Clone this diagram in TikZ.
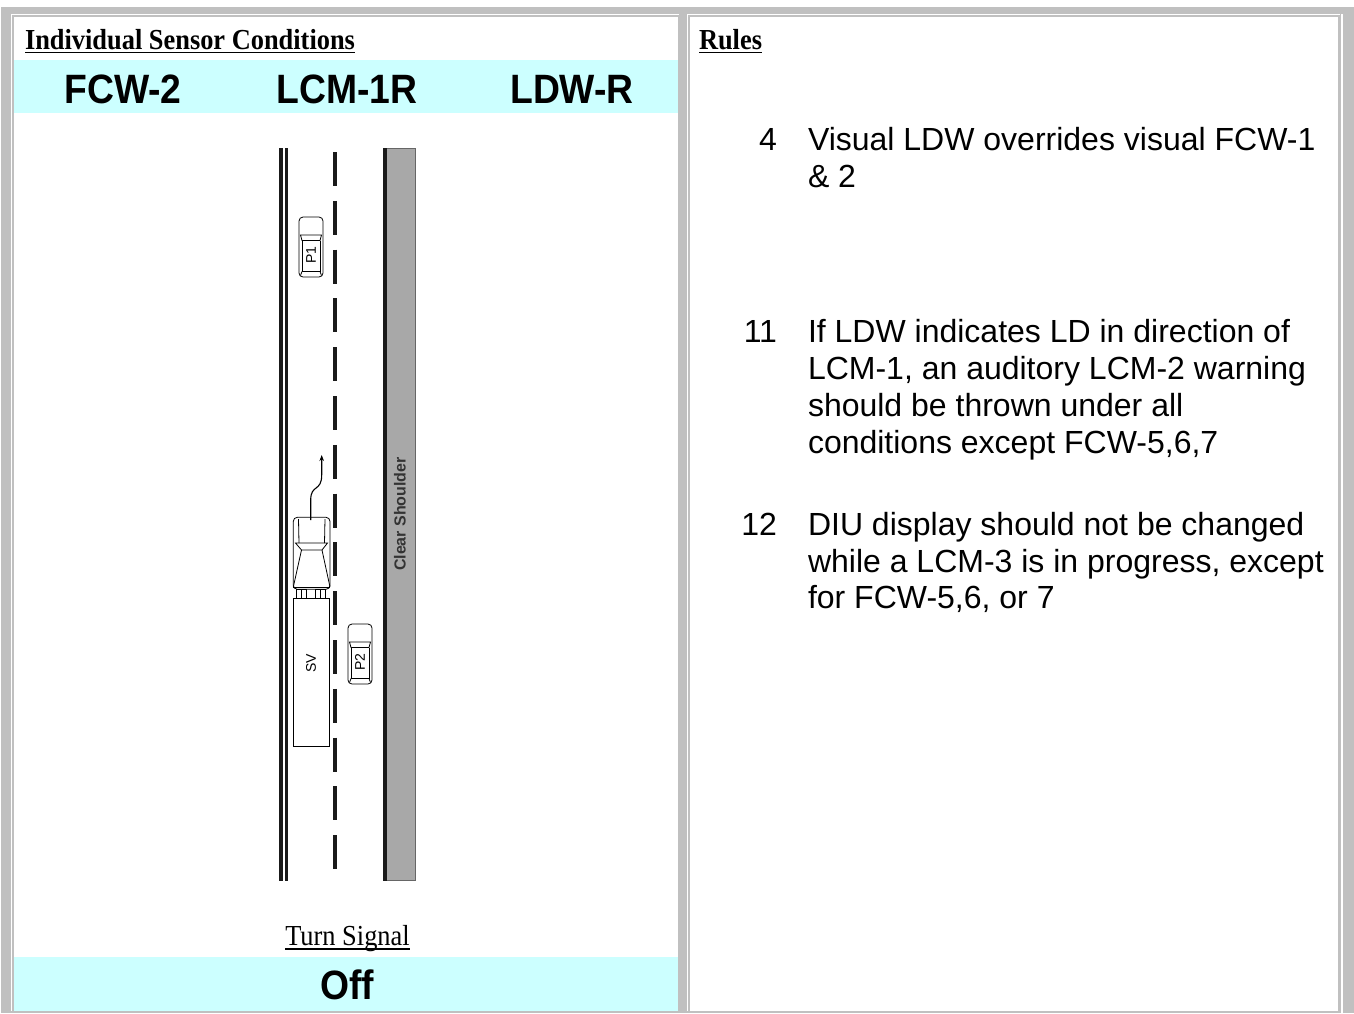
\documentclass[tikz,border=0pt]{standalone}
\usepackage{fontspec}
\setmainfont{Liberation Serif}
\setsansfont{Liberation Sans}
\usetikzlibrary{arrows.meta}

\definecolor{framegrey}{HTML}{C0C0C0}
\definecolor{bandcyan}{HTML}{CCFFFF}
\definecolor{shouldergrey}{HTML}{A8A8A8}
\definecolor{ink}{HTML}{1A1A1A}

% slightly condensed setting for the large labels
\newcommand{\condensed}[1]{\scalebox{0.91}[1]{#1}}

\begin{document}
\begin{tikzpicture}[x=1pt,y=-1pt,
  every node/.style={inner sep=0pt, outer sep=0pt},
  heading/.style={font=\fontsize{29}{32}\selectfont\bfseries, anchor=base west},
  caption/.style={font=\fontsize{29}{32}\selectfont, anchor=base},
  status/.style={font=\sffamily\bfseries\fontsize{41}{44}\selectfont, anchor=base},
  ruletext/.style={font=\sffamily\fontsize{32}{37}\selectfont, anchor=base west},
  rulenum/.style={font=\sffamily\fontsize{32}{37}\selectfont, anchor=base east},
  uline/.style={line width=1.8pt},
  roadline/.style={draw=ink, line width=3.3pt},
  carline/.style={draw=black, line width=0.8pt},
  vlabel/.style={font=\sffamily\fontsize{14}{16}\selectfont, rotate=90},
  sedan/.pic={
    \draw[carline, fill=white, rounded corners=4pt] (0,0) rectangle (24,60);
    \draw[carline] (1.5,18) -- (22.5,18) -- (21,23.5) -- (3,23.5) -- cycle;
    \draw[carline] (3,23.5) -- (3,54.5) (21,23.5) -- (21,54.5);
    \draw[carline] (3,54.5) -- (21,54.5) -- (22.5,58.5) (3,54.5) -- (1.5,58.5);
    \node[vlabel] (-label) at (12,38) {#1};
  }
]
\useasboundingbox (0,0) rectangle (1354,1013);

% page frame and the two table cells
\fill[white] (0,0) rectangle (1354,1013);
\fill[framegrey] (1,7) rectangle (1354,1013);
\fill[white] (11,14) rectangle (679,1011);
\fill[framegrey] (12,15) rectangle (679,1011);
\fill[white] (14,17) rectangle (678,1010.5);
\fill[white] (687,14) rectangle (1340,1011);
\fill[framegrey] (688,15) rectangle (1340,1011);
\fill[white] (690,17) rectangle (1338,1010.5);
\fill[white] (1340.5,14) rectangle (1342.5,1013);

% cyan status bands
\fill[bandcyan] (14,60) rectangle (678,113);
\fill[bandcyan] (14,957) rectangle (678,1010.5);

% headings
\node[heading] (hdl) at (25,49) {\condensed{Individual Sensor Conditions}};
\draw[uline] ([yshift=-3.5pt]hdl.base west) -- ([yshift=-3.5pt]hdl.base east);
\node[heading] (hdr) at (699,49) {\condensed{Rules}};
\draw[uline] ([yshift=-3.5pt]hdr.base west) -- ([yshift=-3.5pt]hdr.base east);

% sensor states
\node[status] (fcw) at (123,103) {\condensed{FCW-2}};
\node[status] (lcm) at (347,103) {\condensed{LCM-1R}};
\node[status] (ldw) at (572,103) {\condensed{LDW-R}};

% turn signal
\node[caption] (ts) at (347.5,945) {\condensed{Turn Signal}};
\draw[line width=1.4pt] ([yshift=-4pt]ts.base west) -- ([yshift=-4pt]ts.base east);
\node[status] (off) at (347,999) {\condensed{Off}};

% rules
\node[rulenum] (n4) at (777,150) {4};
\node[ruletext] (r4a) at (808,150) {Visual LDW overrides visual FCW-1};
\node[ruletext] (r4b) at (808,187) {\& 2};
\node[rulenum] (n11) at (777,342) {11};
\node[ruletext] (r11a) at (808,342) {If LDW indicates LD in direction of};
\node[ruletext] (r11b) at (808,379) {LCM-1, an auditory LCM-2 warning};
\node[ruletext] (r11c) at (808,416) {should be thrown under all};
\node[ruletext] (r11d) at (808,453) {conditions except FCW-5,6,7};
\node[rulenum] (n12) at (777,535) {12};
\node[ruletext] (r12a) at (808,535) {DIU display should not be changed};
\node[ruletext] (r12b) at (808,572) {while a LCM-3 is in progress, except};
\node[ruletext] (r12c) at (808,608) {for FCW-5,6, or 7};

% road: double edge line, dashed lane line, clear shoulder
\draw[roadline] (281,148) -- (281,880.7);
\draw[roadline] (286.7,148) -- (286.7,880.7);
\draw[draw=ink, line width=4pt, dash pattern=on 34pt off 14.8pt] (334.7,152) -- (334.7,869.2);
\fill[shouldergrey] (384,148) rectangle (415.5,880.7);
\draw[draw=black!60, line width=0.9pt] (384,148.4) -- (415.5,148.4) -- (415.5,880.7) -- (384,880.7);
\draw[roadline] (385,148) -- (385,880.7);
\node[font=\sffamily\bfseries\fontsize{16}{18}\selectfont, text=black!80, rotate=90] (cs) at (400,514) {Clear Shoulder};

% parked cars
\pic (p1) at (299,217) {sedan={P1}};
\pic (p2) at (348,624) {sedan={P2}};

% subject vehicle: tractor cab and trailer
\draw[carline, fill=white, rounded corners=4pt] (293.3,517.3) rectangle (330,589.3);
\draw[carline] (298.5,519) -- (299,543) (325,519) -- (324.5,543);
\draw[carline] (295.5,543) -- (327.5,543) -- (322,550) -- (301.5,550) -- cycle;
\draw[carline] (301.5,550) -- (293.3,587) (322,550) -- (330,587);
\draw[carline] (293.3,587) -- (330,587);
\draw[carline] (296.7,589.3) rectangle (306.7,598.3) (301.7,589.3) -- (301.7,598.3);
\draw[carline] (315,589.3) rectangle (325,598.3) (320,589.3) -- (320,598.3);
\draw[carline] (293.3,598.3) rectangle (329.3,746.7);
\node[vlabel] (sv) at (311,663) {SV};

% intended path of the subject vehicle
\coordinate (pathstart) at (310.7,520);
\coordinate (pathend) at (321.7,455);
\draw[line width=1.1pt, -{Stealth[length=6pt,width=4.5pt]}] (pathstart) -- (310.7,500)
  .. controls (310.7,484) and (321.7,492) .. (321.7,475) -- (pathend);
\end{tikzpicture}
\end{document}
